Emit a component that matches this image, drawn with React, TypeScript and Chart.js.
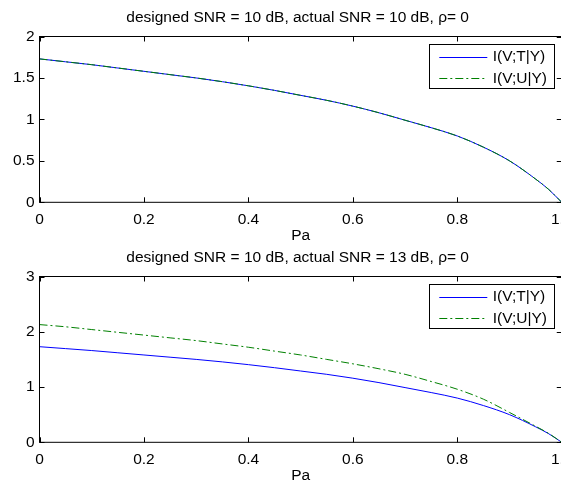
import React, { useEffect, useRef } from "react";
import { Chart, registerables } from "chart.js";

Chart.register(...registerables);

// ---- data ----
const PA = [0, 0.05, 0.1, 0.15, 0.2, 0.25, 0.3, 0.35, 0.4, 0.45, 0.5, 0.55, 0.6, 0.65, 0.7, 0.75, 0.8, 0.85, 0.9, 0.95, 0.975, 1];
const IT_TOP = [1.73, 1.695, 1.66, 1.62, 1.58, 1.54, 1.5, 1.455, 1.405, 1.35, 1.29, 1.23, 1.16, 1.08, 0.99, 0.9, 0.8, 0.665, 0.5, 0.28, 0.155, 0];
const IU_TOP = [1.73, 1.695, 1.66, 1.62, 1.58, 1.54, 1.5, 1.455, 1.405, 1.35, 1.29, 1.23, 1.16, 1.08, 0.99, 0.9, 0.8, 0.665, 0.5, 0.28, 0.155, 0];
const IT_BOT = [1.73, 1.695, 1.66, 1.62, 1.58, 1.54, 1.5, 1.455, 1.405, 1.35, 1.29, 1.23, 1.16, 1.08, 0.99, 0.9, 0.8, 0.665, 0.5, 0.28, 0.155, 0];
const IU_BOT = [2.13, 2.09, 2.04, 1.99, 1.94, 1.89, 1.84, 1.78, 1.72, 1.65, 1.58, 1.5, 1.42, 1.33, 1.23, 1.1, 0.96, 0.78, 0.54, 0.29, 0.16, 0];
const SERIES_NAMES = ["I(V;T|Y)", "I(V;U|Y)"];
const TITLES = [
  "designed SNR = 10 dB, actual SNR = 10 dB, \u03c1= 0",
  "designed SNR = 10 dB, actual SNR = 13 dB, \u03c1= 0",
];
const X_LABEL = "Pa";
const Y_MAX = [2, 3];
const Y_STEP = [0.5, 1];
const X_STEP = 0.2;

const FONT = '"Liberation Sans", Arial, sans-serif';
const FS = 15.5;
const BLUE = "#0000ff";
const GREEN = "#008000";
const DASH = [8, 3, 2, 3];

const CW = 600;
const CH = 240;
const AREA = { left: 39.5, right: 561.75, top: 36.5, bottom: 202.3 };

function makePlugin(title: string) {
  return {
    id: "matlabFrame",
    afterDatasetsDraw(chart: any) {
      const ctx = chart.ctx;
      const a = chart.chartArea;
      const xs = chart.scales.x;
      const ys = chart.scales.y;
      ctx.save();
      ctx.strokeStyle = "#000";
      ctx.lineWidth = 1;
      ctx.strokeRect(a.left, a.top, a.right - a.left, a.bottom - a.top);
      const TL = 5;
      ctx.beginPath();
      xs.ticks.forEach((t: any) => {
        const px = Math.round(xs.getPixelForValue(t.value)) + 0.5;
        ctx.moveTo(px, a.bottom);
        ctx.lineTo(px, a.bottom - TL);
        ctx.moveTo(px, a.top);
        ctx.lineTo(px, a.top + TL);
      });
      ys.ticks.forEach((t: any) => {
        const py = Math.round(ys.getPixelForValue(t.value)) + 0.5;
        ctx.moveTo(a.left, py);
        ctx.lineTo(a.left + TL, py);
        ctx.moveTo(a.right, py);
        ctx.lineTo(a.right - TL, py);
      });
      ctx.stroke();

      ctx.fillStyle = "#000";
      ctx.font = `${FS}px ${FONT}`;
      ctx.textAlign = "center";
      ctx.textBaseline = "middle";
      const cx = (a.left + a.right) / 2;
      ctx.fillText(title, cx - 3, 17.5);
      ctx.fillText(X_LABEL, cx, 236);

      const lx = 429.5, ly = 44.5, lw = 125, lh = 44;
      ctx.fillStyle = "#fff";
      ctx.fillRect(lx, ly, lw, lh);
      ctx.strokeStyle = "#000";
      ctx.strokeRect(lx, ly, lw, lh);
      const rows = [56.7, 78.3];
      const styles = [
        { c: BLUE, d: [] as number[] },
        { c: GREEN, d: DASH },
      ];
      rows.forEach((ry, i) => {
        ctx.strokeStyle = styles[i].c;
        ctx.setLineDash(styles[i].d);
        ctx.beginPath();
        ctx.moveTo(439.3, Math.round(ry) + 0.5);
        ctx.lineTo(487.3, Math.round(ry) + 0.5);
        ctx.stroke();
        ctx.setLineDash([]);
        ctx.fillStyle = "#000";
        ctx.textAlign = "left";
        ctx.fillText(SERIES_NAMES[i], 492.7, ry);
      });
      ctx.restore();
    },
  };
}

function Plot({ idx, it, iu, top }: { idx: number; it: number[]; iu: number[]; top: number }) {
  const ref = useRef<HTMLCanvasElement>(null);
  useEffect(() => {
    const canvas = ref.current!;
    const pad = { left: 0, top: AREA.top, right: CW - AREA.right, bottom: 0 };
    const chart = new Chart(canvas, {
      type: "line",
      data: {
        datasets: [
          {
            label: SERIES_NAMES[0],
            data: PA.map((x, i) => ({ x, y: it[i] })),
            borderColor: BLUE,
            borderWidth: 1,
            pointRadius: 0,
            cubicInterpolationMode: "monotone",
            order: 1,
          },
          {
            label: SERIES_NAMES[1],
            data: PA.map((x, i) => ({ x, y: iu[i] })),
            borderColor: GREEN,
            borderWidth: 1,
            borderDash: DASH,
            pointRadius: 0,
            cubicInterpolationMode: "monotone",
            order: 0,
          },
        ],
      },
      options: {
        responsive: false,
        animation: false,
        devicePixelRatio: 1,
        layout: { padding: pad },
        plugins: { legend: { display: false }, tooltip: { enabled: false }, title: { display: false } },
        scales: {
          x: {
            type: "linear",
            min: 0,
            max: 1,
            grid: { display: false, drawTicks: false },
            border: { display: false },
            ticks: { stepSize: X_STEP, color: "#000", font: { family: FONT, size: FS }, padding: 8, maxRotation: 0 },
            afterFit: (s: any) => {
              s.height = CH - AREA.bottom;
            },
          },
          y: {
            min: 0,
            max: Y_MAX[idx],
            grid: { display: false, drawTicks: false },
            border: { display: false },
            ticks: {
              stepSize: Y_STEP[idx],
              color: "#000",
              font: { family: FONT, size: FS },
              padding: 5,
              callback: (v: any) => String(Number(v)),
            },
            afterFit: (s: any) => {
              s.width = AREA.left;
            },
          },
        },
      },
      plugins: [makePlugin(TITLES[idx])],
    } as any);
    // correct layout so the plot area lands where the reference has it
    for (let k = 0; k < 3; k++) {
      const a = chart.chartArea;
      const dr = a.right - AREA.right;
      const dt = a.top - AREA.top;
      const db = a.bottom - AREA.bottom;
      if (Math.abs(dr) < 0.05 && Math.abs(dt) < 0.05 && Math.abs(db) < 0.05) break;
      pad.right += dr;
      pad.top -= dt;
      pad.bottom += db;
      (chart.options as any).layout.padding = { ...pad };
      chart.update();
    }
    return () => chart.destroy();
  }, []);
  return (
    <canvas
      ref={ref}
      width={CW}
      height={CH}
      style={{ position: "absolute", left: 0, top, width: CW, height: CH }}
    />
  );
}

export default function App() {
  useEffect(() => {
    document.body.style.overflow = "hidden";
  }, []);
  return (
    <div style={{ position: "absolute", left: 0, top: 0, width: 561, height: 481, overflow: "hidden", background: "#fff" }}>
      <Plot idx={0} it={IT_TOP} iu={IU_TOP} top={0} />
      <Plot idx={1} it={IT_BOT} iu={IU_BOT} top={240} />
    </div>
  );
}
